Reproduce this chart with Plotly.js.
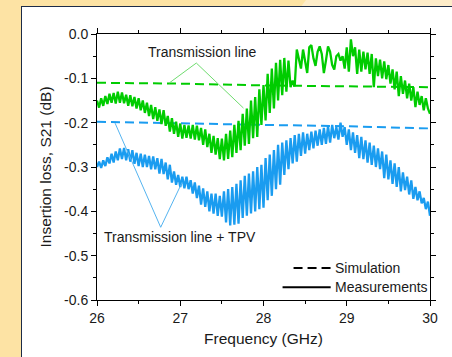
<!DOCTYPE html>
<html><head><meta charset="utf-8">
<script src="https://cdn.plot.ly/plotly-3.0.1.min.js"></script>
<style>
html,body{margin:0;padding:0;width:452px;height:357px;overflow:hidden;background:#fde3a4;position:relative}
#light{position:absolute;left:300px;top:0;width:160px;height:8px;background:#fdecc9;clip-path:polygon(6px 0,100% 0,100% 100%,0 100%)}
#frame{position:absolute;left:21px;top:6px;width:440px;height:360px;border:1px solid #1c2b48;background:#fff}
#chart{position:absolute;left:22px;top:7px;width:430px;height:350px}
</style></head>
<body>
<div id="light"></div><div id="frame"></div><div id="chart"></div>
<script>
const freq = [26.000,26.025,26.050,26.075,26.100,26.125,26.150,26.175,26.200,26.225,26.250,26.275,26.300,26.325,26.350,26.375,26.400,26.425,26.450,26.475,26.500,26.525,26.550,26.575,26.600,26.625,26.650,26.675,26.700,26.725,26.750,26.775,26.800,26.825,26.850,26.875,26.900,26.925,26.950,26.975,27.000,27.025,27.050,27.075,27.100,27.125,27.150,27.175,27.200,27.225,27.250,27.275,27.300,27.325,27.350,27.375,27.400,27.425,27.450,27.475,27.500,27.525,27.550,27.575,27.600,27.625,27.650,27.675,27.700,27.725,27.750,27.775,27.800,27.825,27.850,27.875,27.900,27.925,27.950,27.975,28.000,28.025,28.050,28.075,28.100,28.125,28.150,28.175,28.200,28.225,28.250,28.275,28.300,28.325,28.350,28.375,28.400,28.425,28.450,28.475,28.500,28.525,28.550,28.575,28.600,28.625,28.650,28.675,28.700,28.725,28.750,28.775,28.800,28.825,28.850,28.875,28.900,28.925,28.950,28.975,29.000,29.025,29.050,29.075,29.100,29.125,29.150,29.175,29.200,29.225,29.250,29.275,29.300,29.325,29.350,29.375,29.400,29.425,29.450,29.475,29.500,29.525,29.550,29.575,29.600,29.625,29.650,29.675,29.700,29.725,29.750,29.775,29.800,29.825,29.850,29.875,29.900,29.925,29.950,29.975,30.000];

const measTL = [-0.150,-0.166,-0.145,-0.162,-0.140,-0.158,-0.135,-0.155,-0.133,-0.157,-0.130,-0.155,-0.132,-0.156,-0.137,-0.162,-0.138,-0.163,-0.142,-0.168,-0.145,-0.172,-0.150,-0.178,-0.155,-0.185,-0.160,-0.192,-0.165,-0.196,-0.170,-0.203,-0.172,-0.207,-0.185,-0.220,-0.190,-0.225,-0.198,-0.232,-0.202,-0.236,-0.205,-0.234,-0.206,-0.236,-0.205,-0.238,-0.207,-0.240,-0.212,-0.250,-0.215,-0.255,-0.225,-0.268,-0.230,-0.272,-0.235,-0.282,-0.236,-0.285,-0.225,-0.282,-0.218,-0.278,-0.205,-0.268,-0.196,-0.262,-0.180,-0.252,-0.168,-0.248,-0.150,-0.235,-0.142,-0.232,-0.125,-0.205,-0.115,-0.195,-0.090,-0.178,-0.078,-0.168,-0.065,-0.150,-0.058,-0.138,-0.054,-0.130,-0.060,-0.120,-0.105,-0.118,-0.035,-0.060,-0.078,-0.035,-0.060,-0.088,-0.030,-0.025,-0.055,-0.072,-0.040,-0.028,-0.045,-0.088,-0.060,-0.028,-0.040,-0.070,-0.080,-0.050,-0.045,-0.060,-0.050,-0.078,-0.030,-0.085,-0.012,-0.050,-0.030,-0.090,-0.035,-0.085,-0.040,-0.080,-0.042,-0.090,-0.045,-0.120,-0.055,-0.095,-0.058,-0.100,-0.062,-0.102,-0.070,-0.112,-0.080,-0.125,-0.085,-0.140,-0.095,-0.135,-0.105,-0.145,-0.112,-0.150,-0.120,-0.165,-0.130,-0.160,-0.140,-0.172,-0.145,-0.168,-0.180];

const measTPV = [-0.300,-0.288,-0.302,-0.285,-0.298,-0.278,-0.292,-0.270,-0.290,-0.265,-0.285,-0.258,-0.282,-0.257,-0.285,-0.260,-0.288,-0.262,-0.293,-0.268,-0.298,-0.270,-0.300,-0.272,-0.300,-0.275,-0.305,-0.276,-0.305,-0.280,-0.315,-0.282,-0.316,-0.290,-0.328,-0.295,-0.335,-0.310,-0.340,-0.318,-0.345,-0.322,-0.348,-0.322,-0.350,-0.330,-0.360,-0.335,-0.370,-0.342,-0.385,-0.348,-0.390,-0.355,-0.400,-0.360,-0.405,-0.360,-0.410,-0.365,-0.412,-0.355,-0.425,-0.350,-0.432,-0.345,-0.430,-0.338,-0.428,-0.330,-0.415,-0.320,-0.410,-0.315,-0.405,-0.310,-0.400,-0.300,-0.395,-0.295,-0.392,-0.280,-0.375,-0.272,-0.365,-0.262,-0.350,-0.250,-0.340,-0.245,-0.318,-0.240,-0.305,-0.235,-0.292,-0.228,-0.288,-0.225,-0.275,-0.222,-0.270,-0.225,-0.262,-0.220,-0.258,-0.218,-0.252,-0.215,-0.250,-0.212,-0.248,-0.208,-0.245,-0.205,-0.235,-0.210,-0.238,-0.200,-0.232,-0.210,-0.250,-0.215,-0.262,-0.222,-0.268,-0.228,-0.280,-0.232,-0.282,-0.240,-0.290,-0.245,-0.295,-0.252,-0.300,-0.258,-0.305,-0.265,-0.325,-0.272,-0.328,-0.285,-0.338,-0.292,-0.345,-0.300,-0.355,-0.312,-0.352,-0.322,-0.362,-0.330,-0.372,-0.345,-0.375,-0.355,-0.382,-0.370,-0.395,-0.378,-0.410];

const simFreq = [26, 27, 28, 29, 30];
const simTL = [-0.110, -0.112, -0.116, -0.118, -0.120];
const simTPV = [-0.198, -0.202, -0.205, -0.208, -0.213];

const xTicks = [26, 27, 28, 29, 30];
const yTicks = [0, -0.1, -0.2, -0.3, -0.4, -0.5, -0.6];
const yTickText = ["0.0", "-0.1", "-0.2", "-0.3", "-0.4", "-0.5", "-0.6"];

const GREEN = "#00cc00", BLUE = "#1a9cf0";
const FONT = "Liberation Sans, Arial, sans-serif";
const TXT = "#1a1a1a";

const traces = [
  {x: simFreq, y: simTL, mode: "lines", line: {color: GREEN, width: 2, dash: "9px,5px"}, hoverinfo: "skip"},
  {x: simFreq, y: simTPV, mode: "lines", line: {color: BLUE, width: 2, dash: "9px,5px"}, hoverinfo: "skip"},
  {x: freq, y: measTL, mode: "lines", line: {color: GREEN, width: 2.3}, hoverinfo: "skip"},
  {x: freq, y: measTPV, mode: "lines", line: {color: BLUE, width: 2.3}, hoverinfo: "skip"}
];

const axisCommon = {
  showline: true, linecolor: "#000", linewidth: 1, mirror: "allticks",
  ticks: "outside", ticklen: 5, tickwidth: 1, tickcolor: "#000",
  showgrid: false, zeroline: false,
  tickfont: {family: FONT, size: 14, color: TXT},
  minor: {ticks: "outside", ticklen: 3, tickcolor: "#000", showgrid: false}
};

const layout = {
  width: 430, height: 350,
  margin: {l: 75, r: 22, t: 27, b: 57},
  paper_bgcolor: "rgba(0,0,0,0)", plot_bgcolor: "#fff",
  showlegend: false,
  font: {family: FONT, color: TXT},
  xaxis: Object.assign({}, axisCommon, {
    range: [26, 30], tickvals: xTicks, ticktext: xTicks.map(String),
    minor: Object.assign({}, axisCommon.minor, {dtick: 0.5, tick0: 26}),
    title: {text: "Frequency (GHz)", font: {family: FONT, size: 15.5, color: TXT}, standoff: 8}
  }),
  yaxis: Object.assign({}, axisCommon, {
    range: [-0.6, 0], tickvals: yTicks, ticktext: yTickText,
    minor: Object.assign({}, axisCommon.minor, {dtick: 0.05, tick0: 0}),
    title: {text: "Insertion loss, S21 (dB)", font: {family: FONT, size: 15.5, color: TXT}, standoff: 8}
  }),
  shapes: [
    {type: "path", xref: "x", yref: "y", path: "M26.867,-0.1106 L27.193,-0.0655 L27.759,-0.167", line: {color: "#6fdc6f", width: 1}},
    {type: "path", xref: "x", yref: "y", path: "M26.217,-0.201 L26.765,-0.436 L27.024,-0.334", line: {color: "#55b4f0", width: 1}},
    {type: "line", xref: "x", yref: "y", x0: 28.361, x1: 28.807, y0: -0.528, y1: -0.528, line: {color: "#000", width: 2, dash: "9px,5px"}},
    {type: "line", xref: "x", yref: "y", x0: 28.229, x1: 28.807, y0: -0.571, y1: -0.571, line: {color: "#000", width: 2}}
  ],
  annotations: [
    {x: 27.265, y: -0.041, xref: "x", yref: "y", text: "Transmission line", showarrow: false, font: {family: FONT, size: 14, color: TXT}},
    {x: 26.06, y: -0.458, xref: "x", yref: "y", xanchor: "left", text: "Transmission line + TPV", showarrow: false, font: {family: FONT, size: 14, color: TXT}},
    {x: 28.835, y: -0.528, xref: "x", yref: "y", xanchor: "left", text: "Simulation", showarrow: false, font: {family: FONT, size: 14, color: TXT}},
    {x: 28.835, y: -0.571, xref: "x", yref: "y", xanchor: "left", text: "Measurements", showarrow: false, font: {family: FONT, size: 14, color: TXT}}
  ]
};

Plotly.newPlot("chart", traces, layout, {staticPlot: true, displayModeBar: false});
</script>
</body></html>
